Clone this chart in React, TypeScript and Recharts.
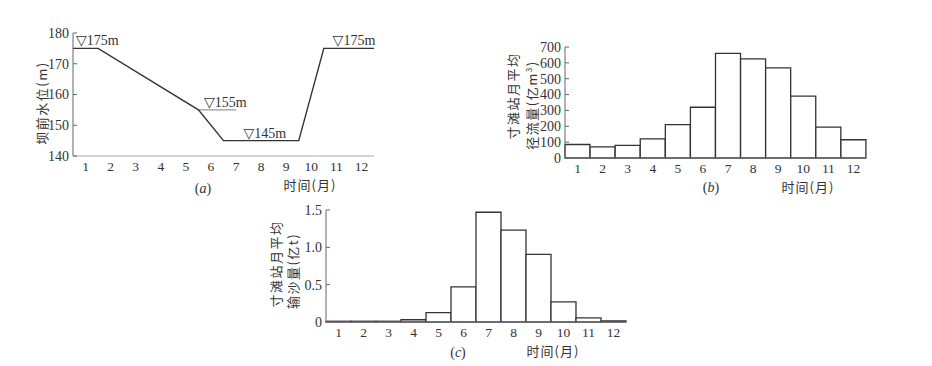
import React from "react";
import {
  LineChart, Line, BarChart, Bar, XAxis, YAxis, ReferenceLine, ReferenceDot,
} from "recharts";

// (a) water level before the dam
const levelMonths = [0.5, 1.5, 5.5, 6.5, 9.5, 10.5, 12.5];
const levelValues = [175, 175, 155, 145, 145, 175, 175];
const levelTicks = [140, 150, 160, 170, 180];
const monthTicks = [1, 2, 3, 4, 5, 6, 7, 8, 9, 10, 11, 12];
const levelMarks = [
  { x: 0.62, y: 175, text: "▽175m" },
  { x: 5.72, y: 155, text: "▽155m" },
  { x: 7.3, y: 145, text: "▽145m" },
  { x: 10.85, y: 175, text: "▽175m" },
];

// (b) monthly runoff at Cuntan (亿m³)
const months = ["1", "2", "3", "4", "5", "6", "7", "8", "9", "10", "11", "12"];
const runoff = [85, 70, 80, 120, 210, 320, 660, 625, 568, 390, 195, 115];
const runoffTicks = [0, 100, 200, 300, 400, 500, 600, 700];

// (c) monthly sediment at Cuntan (亿t)
const sediment = [0.01, 0.01, 0.01, 0.03, 0.125, 0.47, 1.47, 1.23, 0.905, 0.27, 0.054, 0.015];
const sedimentTicks = [0, 0.5, 1.0, 1.5];

const FONT = "'Liberation Serif', 'DejaVu Serif', 'Noto Sans CJK SC', serif";
const CJK = "'Noto Sans CJK SC', 'Liberation Serif', serif";
const INK = "#333";
const FS = 14;
const XFS = 13.5;

const levelData = levelMonths.map((m, i) => ({ m, v: levelValues[i] }));
const runoffData = months.map((m, i) => ({ m, v: runoff[i] }));
const sedimentData = months.map((m, i) => ({ m, v: sediment[i] }));

function YTick(props: any) {
  const { x, y, payload, fmt } = props;
  const label = fmt ? fmt(payload.value) : String(payload.value);
  return (
    <g>
      <line x1={x} x2={x + 4} y1={y} y2={y} stroke="#666" strokeWidth={1} />
      <text x={x - 4} y={y} dy="0.35em" textAnchor="end" fontSize={FS} fill={INK} style={{ fontFamily: FONT }}>
        {label}
      </text>
    </g>
  );
}

function MarkLabel(props: any) {
  const { viewBox, text } = props;
  return (
    <text x={viewBox.x} y={viewBox.y - 3} fontSize={FS} fill={INK} style={{ fontFamily: FONT }}>
      {text}
    </text>
  );
}

const abs = (left: number, top: number): React.CSSProperties => ({ position: "absolute", left, top });

function VText({ x, y, children }: { x: number; y: number; children: React.ReactNode }) {
  return (
    <div
      style={{
        position: "absolute", left: x, top: y, transform: "translate(-50%, -50%) rotate(-90deg)",
        whiteSpace: "nowrap", fontFamily: CJK, fontSize: 13, color: INK, letterSpacing: 1.5, lineHeight: "13px",
      }}
    >
      {children}
    </div>
  );
}

function HText({ x, y, children }: { x: number; y: number; children: React.ReactNode }) {
  return (
    <div
      style={{
        position: "absolute", left: x, top: y, transform: "translate(-50%, -50%)",
        whiteSpace: "nowrap", fontFamily: CJK, fontSize: 13, color: INK, letterSpacing: 1, lineHeight: "13px",
      }}
    >
      {children}
    </div>
  );
}

function Caption({ x, y, letter }: { x: number; y: number; letter: string }) {
  return (
    <div
      style={{
        position: "absolute", left: x, top: y, transform: "translate(-50%, -50%)",
        fontFamily: FONT, fontSize: FS, color: INK, lineHeight: "14px",
      }}
    >
      (<i>{letter}</i>)
    </div>
  );
}

const xTickStyle = { fontSize: XFS, fill: INK, style: { fontFamily: FONT } };

export default function App() {
  return (
    <div style={{ position: "fixed", left: 0, top: 0, width: 932, height: 366, background: "#fff" }}>
      {/* (a) */}
      <div style={abs(0, 0)}>
        <LineChart width={400} height={200} data={levelData} margin={{ top: 33, right: 26, left: 33, bottom: 0 }}>
          <XAxis
            dataKey="m" type="number" domain={[0.5, 12.5]} ticks={monthTicks} interval={0}
            tickLine={false} tickSize={0} tickMargin={5} height={44}
            axisLine={{ stroke: "#aaa" }} tick={xTickStyle}
          />
          <YAxis
            type="number" domain={[140, 180]} ticks={levelTicks} width={40} interval={0}
            tickLine={false} tickSize={0} tickMargin={0}
            axisLine={{ stroke: "#666" }} tick={(p: any) => <YTick {...p} />}
          />
          <ReferenceLine segment={[{ x: 5.5, y: 155 }, { x: 7, y: 155 }]} stroke="#999" strokeWidth={1.2} />
          <Line dataKey="v" type="linear" stroke={INK} strokeWidth={1.4} dot={false} isAnimationActive={false} />
          {levelMarks.map((mk, i) => (
            <ReferenceDot key={i} x={mk.x} y={mk.y} r={0} stroke="none" fill="none"
              label={(p: any) => <MarkLabel {...p} text={mk.text} />} />
          ))}
        </LineChart>
      </div>
      <VText x={41} y={103}>坝前水位(m)</VText>
      <HText x={310} y={184}>时间(月)</HText>
      <Caption x={203} y={189} letter="a" />

      {/* (b) */}
      <div style={abs(470, 0)}>
        <BarChart width={420} height={200} data={runoffData} barCategoryGap={0}
          margin={{ top: 47, right: 24, left: 55, bottom: 0 }}>
          <XAxis
            dataKey="m" interval={0} tickLine={false} tickSize={0} tickMargin={5} height={42}
            axisLine={{ stroke: "#777" }} tick={xTickStyle}
          />
          <YAxis
            type="number" domain={[0, 700]} ticks={runoffTicks} width={40} interval={0}
            tickLine={false} tickSize={0} tickMargin={0}
            axisLine={{ stroke: "#666" }} tick={(p: any) => <YTick {...p} />}
          />
          <Bar dataKey="v" fill="#fff" stroke={INK} strokeWidth={1.3} isAnimationActive={false} />
        </BarChart>
      </div>
      <VText x={512} y={96}>寸滩站月平均</VText>
      <VText x={530} y={105}>径流量(亿m<sup style={{ fontSize: 8 }}>3</sup>)</VText>
      <HText x={808} y={186}>时间(月)</HText>
      <Caption x={711} y={188} letter="b" />

      {/* (c) */}
      <div style={abs(250, 180)}>
        <BarChart width={400} height={186} data={sedimentData} barCategoryGap={0}
          margin={{ top: 30, right: 24, left: 36, bottom: 0 }}>
          <XAxis
            dataKey="m" interval={0} tickLine={false} tickSize={0} tickMargin={5} height={44}
            axisLine={{ stroke: "#777" }} tick={xTickStyle}
          />
          <YAxis
            type="number" domain={[0, 1.5]} ticks={sedimentTicks} width={40} interval={0}
            tickLine={false} tickSize={0} tickMargin={0}
            axisLine={{ stroke: "#666" }}
            tick={(p: any) => <YTick {...p} fmt={(v: number) => (v === 0 ? "0" : v.toFixed(1))} />}
          />
          <Bar dataKey="v" fill="#fff" stroke={INK} strokeWidth={1.3} isAnimationActive={false} />
        </BarChart>
      </div>
      <VText x={275} y={264}>寸滩站月平均</VText>
      <VText x={292} y={271}>输沙量(亿t)</VText>
      <HText x={553} y={350}>时间(月)</HText>
      <Caption x={458} y={353} letter="c" />
    </div>
  );
}
